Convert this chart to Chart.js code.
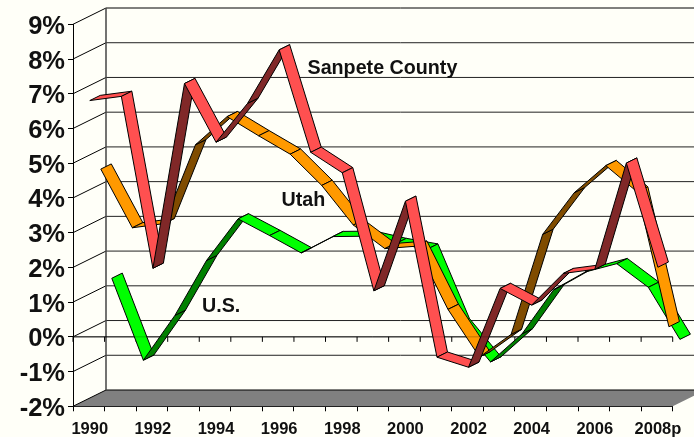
<!DOCTYPE html>
<html><head><meta charset="utf-8">
<style>html,body{margin:0;padding:0;background:#fffff8;overflow:hidden}canvas{display:block}</style>
<script src="https://cdn.jsdelivr.net/npm/chart.js@4"></script></head>
<body><canvas id="c" width="694" height="437"></canvas>
<script>
const years = ['1990','1991','1992','1993','1994','1995','1996','1997','1998','1999','2000','2001','2002','2003','2004','2005','2006','2007','2008p'];
const sanpete = [6.79,6.91,1.96,7.28,5.59,6.71,8.25,5.30,4.71,1.31,3.89,-0.60,-0.89,1.38,0.90,1.81,1.93,4.99,1.99];
const utah = [4.66,2.97,3.09,5.36,6.17,5.62,5.09,4.19,3.05,2.37,2.44,0.62,-0.75,-0.10,2.78,3.98,4.76,4.00,0.12];
const us = [1.36,-1.00,0.29,1.87,3.07,2.59,2.09,2.56,2.57,2.36,2.20,0.05,-1.05,-0.24,1.03,1.54,1.78,1.10,-0.40];
const valueTicks = [-2,-1,0,1,2,3,4,5,6,7,8,9];
const seriesNames = ['U.S.','Utah','Sanpete County'];
const seriesValues = [us, utah, sanpete];
const lightColors = ['#00ff00','#ff9900','#ff5050'];
const darkColors = ['#008000','#804c00','#802828'];
const seriesDepth = [2,1,0];
const DX = 33, DY = 16.3, BG = '#fffff8';

function line(ctx,x1,y1,x2,y2){ctx.beginPath();ctx.moveTo(x1,y1);ctx.lineTo(x2,y2);ctx.stroke();}

const scene = {
  id:'scene',
  beforeDraw(chart){const c=chart.ctx;c.save();c.fillStyle=BG;c.fillRect(0,0,chart.width,chart.height);c.restore();},
  beforeDatasetsDraw(chart){
    const c=chart.ctx, x=chart.scales.x, y=chart.scales.y;
    const L=x.left, R=x.right, B=y.getPixelForValue(-2), T=y.getPixelForValue(9), Z=y.getPixelForValue(0);
    c.save();
    c.strokeStyle='#000';c.lineWidth=1;
    // floor
    c.fillStyle='#808080';c.beginPath();c.moveTo(L,B);c.lineTo(L+DX,B-DY);c.lineTo(R+DX,B-DY);c.lineTo(R,B);c.closePath();c.fill();
    line(c,L,B,L+DX,B-DY);
    c.lineWidth=1.2;line(c,L+DX,B-DY,R+DX,B-DY);c.lineWidth=1;
    // back wall grid and left wall
    valueTicks.forEach(v=>{
      const p=y.getPixelForValue(v);
      if(v>-2){
        c.strokeStyle=v===9?'#000':'#222';
        line(c,L+DX,p-DY,R+DX,p-DY);
        c.strokeStyle='#000';
        line(c,L,p,L+DX,p-DY);
      }
    });
    c.strokeStyle='#444';c.lineWidth=1.5;line(c,L+DX,T-DY,L+DX,B-DY);
    // zero plane line with ticks
    c.strokeStyle='#000';c.lineWidth=1;
    line(c,L,Z,R,Z);
    const step=(R-L)/years.length;
    for(let i=0;i<=years.length;i++){const px=L+i*step;line(c,px,Z,px,Z+5);}
    // ribbons
    c.lineJoin='round';
    seriesValues.forEach((vals,k)=>{
      const pts=chart.getDatasetMeta(k).data;
      const a=(seriesDepth[k]*11+1)/DX, b=(seriesDepth[k]*11+11.5)/DX;
      for(let i=0;i<pts.length-1;i++){
        const p=pts[i], q=pts[i+1];
        const rise=(p.y-q.y)/(q.x-p.x);
        c.fillStyle=rise>DY/DX?darkColors[k]:lightColors[k];
        c.beginPath();
        c.moveTo(p.x+a*DX,p.y-a*DY);
        c.lineTo(q.x+a*DX,q.y-a*DY);
        c.lineTo(q.x+b*DX,q.y-b*DY);
        c.lineTo(p.x+b*DX,p.y-b*DY);
        c.closePath();c.fill();c.stroke();
      }
    });
    // faint zero line showing over ribbons
    c.strokeStyle='rgba(0,0,0,0.25)';line(c,L,Z,R,Z);
    // labels
    c.fillStyle='#111';c.font='bold 19.7px "Liberation Sans"';c.textAlign='left';c.textBaseline='alphabetic';
    c.fillText('Sanpete County',307.5,74);
    c.fillText('Utah',281.5,205.5);
    c.fillText('U.S.',202,312);
    c.restore();
  }
};

new Chart(document.getElementById('c'),{
  type:'line',
  data:{labels:years,datasets:seriesValues.map((d,k)=>({label:seriesNames[k],data:d,showLine:false,pointRadius:0,borderWidth:0}))},
  options:{
    responsive:false,animation:false,
    layout:{padding:{left:0,top:24.3,right:21.3,bottom:0}},
    plugins:{legend:{display:false},title:{display:false},tooltip:{enabled:false}},
    scales:{
      x:{type:'category',offset:true,
        afterFit(s){s.height=30.7;},
        grid:{drawOnChartArea:false,offset:true,tickLength:5,color:'#000'},
        border:{color:'#000'},
        ticks:{autoSkip:false,maxRotation:0,minRotation:0,padding:8,labelOffset:1,color:'#111',font:{family:'"Liberation Sans"',weight:'bold',size:16.5},
          callback(v,i){return i%2===0?years[i]:'';}}
      },
      y:{type:'linear',min:-2,max:9,
        afterFit(s){s.width=73;},
        afterBuildTicks(s){s.ticks=valueTicks.map(v=>({value:v}));},
        grid:{drawOnChartArea:false,tickLength:5,color:'#000'},
        border:{color:'#000'},
        ticks:{padding:3,labelOffset:2.5,color:'#111',font:{family:'"Liberation Sans"',weight:'bold',size:25.5},callback(v){return v+'%';}}
      }
    }
  },
  plugins:[scene]
});
</script></body></html>
